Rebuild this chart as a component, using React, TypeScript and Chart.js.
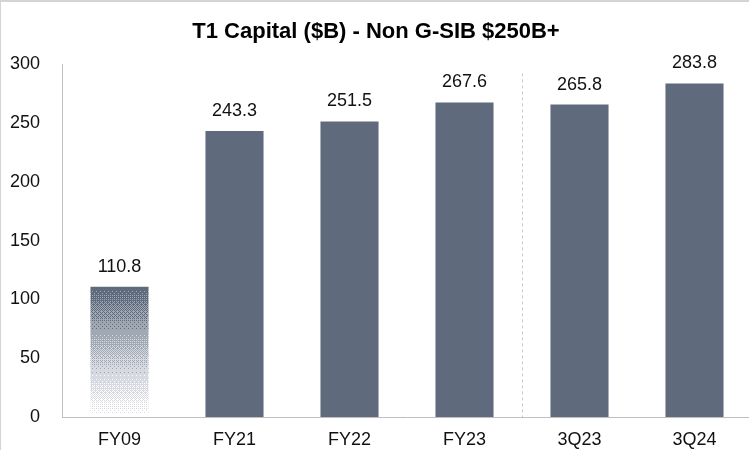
import React, { useEffect, useRef } from "react";
import { Chart, registerables } from "chart.js";

Chart.register(...registerables);

const categories = ["FY09", "FY21", "FY22", "FY23", "3Q23", "3Q24"];
const values = [110.8, 243.3, 251.5, 267.6, 265.8, 283.8];
const yMin = 0;
const yMax = 300;
const yStep = 50;
const dividerAfterIndex = 3;
const titleText = "T1 Capital ($B) - Non G-SIB $250B+";

const BAR = "#5f6b7d";
const FONT = "'Liberation Sans', Arial, sans-serif";
const AXIS = "#bfbfbf";

const bayer = [
  [0, 8, 2, 10],
  [12, 4, 14, 6],
  [3, 11, 1, 9],
  [15, 7, 13, 5],
];
const levels = [
  [255, 255, 255],
  [214, 218, 224],
  [160, 168, 180],
  [95, 107, 125],
];

let patternCache: { key: string; pat: CanvasPattern | null } | null = null;

function ditherPattern(chart: any): any {
  const ys = chart.scales?.y;
  if (!ys) return BAR;
  const top = ys.getPixelForValue(values[0]);
  const bottom = ys.getPixelForValue(0);
  const w = chart.width;
  const h = chart.height;
  const key = `${w}x${h}:${top}:${bottom}`;
  if (patternCache && patternCache.key === key) return patternCache.pat;
  const c = document.createElement("canvas");
  c.width = w;
  c.height = h;
  const cx = c.getContext("2d")!;
  const img = cx.createImageData(w, h);
  for (let y = Math.floor(top); y < Math.ceil(bottom) && y < h; y++) {
    if (y < 0) continue;
    const t = Math.min(1, Math.max(0, (y - top) / (bottom - top)));
    const v = (1 - t) * 3;
    const lo = Math.min(2, Math.floor(v));
    const frac = v - lo;
    for (let x = 0; x < w; x++) {
      const th = (bayer[y % 4][x % 4] + 0.5) / 16;
      const lv = frac > th ? lo + 1 : lo;
      const col = levels[Math.min(3, lv)];
      const i = (y * w + x) * 4;
      img.data[i] = col[0];
      img.data[i + 1] = col[1];
      img.data[i + 2] = col[2];
      img.data[i + 3] = 255;
    }
  }
  cx.putImageData(img, 0, 0);
  const pat = chart.ctx.createPattern(c, "no-repeat");
  patternCache = { key, pat };
  return pat;
}

const framePlugin = {
  id: "frame",
  afterDraw(chart: any) {
    const ctx = chart.ctx;
    ctx.save();
    ctx.fillStyle = "#d4d4d4";
    ctx.fillRect(0, 0, chart.width, 2);
    ctx.fillRect(0, 0, 1, chart.height);
    ctx.restore();
  },
};

const dividerPlugin = {
  id: "divider",
  beforeDatasetsDraw(chart: any) {
    const xs = chart.scales.x;
    const area = chart.chartArea;
    const x =
      Math.round(
        (xs.getPixelForValue(dividerAfterIndex) +
          xs.getPixelForValue(dividerAfterIndex + 1)) /
          2
      ) + 0.5;
    const ctx = chart.ctx;
    ctx.save();
    ctx.strokeStyle = "#c8c8c8";
    ctx.lineWidth = 1;
    ctx.setLineDash([3, 3]);
    ctx.beginPath();
    ctx.moveTo(x, area.top + 9);
    ctx.lineTo(x, area.bottom);
    ctx.stroke();
    ctx.restore();
  },
};

const labelPlugin = {
  id: "valueLabels",
  afterDatasetsDraw(chart: any) {
    const meta = chart.getDatasetMeta(0);
    const ctx = chart.ctx;
    ctx.save();
    ctx.font = `18px ${FONT}`;
    ctx.fillStyle = "#111";
    ctx.textAlign = "center";
    ctx.textBaseline = "middle";
    meta.data.forEach((bar: any, i: number) => {
      ctx.fillText(values[i].toFixed(1), bar.x, bar.y - 20);
    });
    ctx.restore();
  },
};

export default function App() {
  const ref = useRef<HTMLCanvasElement>(null);
  useEffect(() => {
    if (!ref.current) return;
    patternCache = null;
    const chart = new Chart(ref.current, {
      type: "bar",
      data: {
        labels: categories,
        datasets: [
          {
            data: values,
            backgroundColor: (ctx: any) =>
              ctx.dataIndex === 0 ? ditherPattern(ctx.chart) : BAR,
            borderWidth: 0,
            categoryPercentage: 1,
            barPercentage: 0.505,
          },
        ],
      },
      options: {
        responsive: false,
        animation: false,
        devicePixelRatio: 1,
        layout: { padding: { left: 0, right: 0, top: 0, bottom: 0 } },
        plugins: {
          legend: { display: false },
          tooltip: { enabled: false },
          title: {
            display: true,
            text: titleText,
            color: "#000",
            font: { family: FONT, size: 22, weight: "bold", lineHeight: 1.2 },
            padding: { top: 19, bottom: 19 },
          },
        },
        scales: {
          x: {
            grid: { display: false, drawTicks: false },
            border: { display: true, color: AXIS, width: 1 },
            ticks: {
              color: "#111",
              font: { family: FONT, size: 18 },
              padding: 12,
              maxRotation: 0,
            },
            afterFit: (s: any) => {
              s.height = 33;
            },
          },
          y: {
            min: yMin,
            max: yMax,
            grid: { display: false, drawTicks: false },
            border: { display: true, color: AXIS, width: 1 },
            ticks: {
              stepSize: yStep,
              color: "#111",
              font: { family: FONT, size: 18 },
              padding: 22,
            },
            afterFit: (s: any) => {
              s.width = 62;
            },
          },
        },
      },
      plugins: [dividerPlugin, labelPlugin, framePlugin],
    } as any);
    return () => chart.destroy();
  }, []);
  return (
    <div
      style={{
        position: "fixed",
        left: 0,
        top: 0,
        width: 749,
        height: 450,
        overflow: "hidden",
        background: "#fff",
      }}
    >
      <canvas
        ref={ref}
        width={752}
        height={450}
        style={{ display: "block", width: 752, height: 450 }}
      />
    </div>
  );
}
